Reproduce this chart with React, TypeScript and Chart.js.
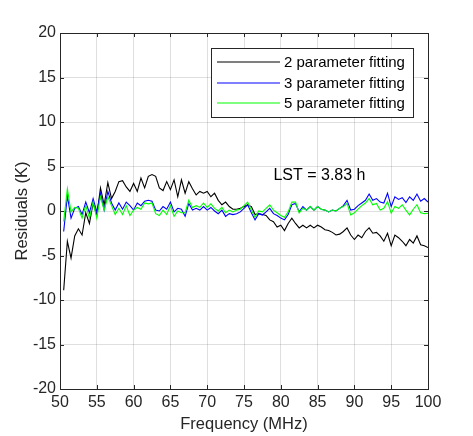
import { useEffect, useRef } from "react";
import { Chart, registerables } from "chart.js";

Chart.register(...registerables);

// Frequency channels (MHz)
const frequencyMHz = [
  50.5, 51, 51.5, 52, 52.5, 53, 53.5, 54, 54.5, 55,
  55.5, 56, 56.5, 57, 57.5, 58, 58.5, 59, 59.5, 60,
  60.5, 61, 61.5, 62, 62.5, 63, 63.5, 64, 64.5, 65,
  65.5, 66, 66.5, 67, 67.5, 68, 68.5, 69, 69.5, 70,
  70.5, 71, 71.5, 72, 72.5, 73, 73.5, 74, 74.5, 75,
  75.5, 76, 76.5, 77, 77.5, 78, 78.5, 79, 79.5, 80,
  80.5, 81, 81.5, 82, 82.5, 83, 83.5, 84, 84.5, 85,
  85.5, 86, 86.5, 87, 87.5, 88, 88.5, 89, 89.5, 90,
  90.5, 91, 91.5, 92, 92.5, 93, 93.5, 94, 94.5, 95,
  95.5, 96, 96.5, 97, 97.5, 98, 98.5, 99, 99.5, 100,
];

// Residuals (K) after each foreground fit
const residual2Param = [
  -8.9, -3.4, -5.3, -2.8, -2.0, -2.7, -0.2, -1.4, 0.9, -0.5,
  2.6, 0.7, 3.2, 1.4, 2.2, 3.3, 3.4, 2.7, 2.2, 3.1,
  2.2, 3.7, 2.6, 3.9, 4.1, 3.9, 2.6, 2.3, 3.3, 2.4,
  3.5, 1.6, 3.5, 2.0, 3.3, 2.5, 1.8, 2.2, 2.0, 2.2,
  1.6, 2.0, 1.2, 0.7, 1.0, 0.5, 0.2, 0.2, 0.3, 0.5,
  0.7, 0.5, -0.4, -0.3, -0.4, -0.5, -1.0, -1.2, -1.8, -1.6,
  -2.2, -1.4, -0.8, -1.4, -1.9, -1.6, -1.9, -1.6, -1.9, -1.6,
  -1.8, -2.1, -2.2, -2.4, -2.7, -2.6, -2.3, -1.9, -2.7, -3.2,
  -2.7, -3.0, -2.3, -1.9, -2.5, -2.4, -2.8, -3.4, -2.5, -3.9,
  -2.7, -3.0, -3.4, -3.9, -3.2, -3.6, -2.8, -3.8, -3.9, -4.1,
];

const residual3Param = [
  -2.3, 1.7, -0.8, 0.3, 0.5, -0.4, 1.0, -0.2, 1.4, -0.1,
  2.0, 0.1, 2.2, 0.9, 0.1, 0.9, 0.2, 1.0, 0.6, 0.1,
  0.9, 0.6, 1.1, 1.2, 1.1, 0.1, 0.0, 0.5, 0.2, 1.0,
  -0.1, 0.3, 0.2, -0.6, 0.85, 0.1, 0.3, 0.1, 0.5, 0.1,
  0.4, 0.0, -0.3, 0.1, -0.6, -0.3, -0.4, -0.3, -0.1, 0.3,
  0.7, -0.2, -1.0, -0.3, -0.45, -0.1, 0.3, -0.3, -0.5, -0.8,
  -1.0, -0.4, 0.7, 0.85, -0.1, 0.5, 0.1, 0.5, 0.1, 0.5,
  0.2, 0.1, -0.1, 0.1, 0.0, 0.3, 0.6, 1.2, 0.1, 0.2,
  0.6, 0.9, 1.2, 1.9, 1.2, 1.4, 1.0, 0.9, 2.0, 0.5,
  1.6, 1.3, 1.5, 0.95, 1.6, 1.2, 1.9, 1.1, 1.4, 1.0,
];

const residual5Param = [
  -1.2, 2.5, -0.1, 0.4, 0.3, -0.8, 0.6, -0.8, 1.0, -0.8,
  1.6, 0.1, 1.6, 0.6, -0.4, 0.3, -0.4, 0.6, -0.5, 0.1,
  0.4, 0.2, 0.9, 0.8, 0.9, -0.3, -0.5, 0.1, -0.4, 0.6,
  -0.6, 0.0, -0.2, -0.2, 1.2, 0.4, 0.6, 0.4, 0.9, 0.4,
  0.8, 0.3, 0.0, 0.4, -0.2, 0.1, -0.1, 0.1, 0.2, 0.6,
  1.0, 0.1, -0.7, 0.0, -0.1, 0.3, 0.7, 0.1, -0.2, -0.5,
  -0.7, -0.1, 1.0, 1.0, -0.2, 0.3, 0.1, 0.5, 0.1, 0.5,
  0.2, 0.1, -0.1, 0.1, 0.0, 0.3, 0.5, 0.85, -0.45, -0.2,
  0.2, 0.6, 0.9, 1.4, 0.7, 0.85, 0.1, 0.3, 1.05, -0.25,
  0.5, 0.3, 0.7, 0.1, -0.45, 0.2, 0.7, -0.2, -0.3, -0.25,
];

const seriesLabels = ["2 parameter fitting", "3 parameter fitting", "5 parameter fitting"];
const seriesValues = [residual2Param, residual3Param, residual5Param];
const seriesColors = ["#000000", "#0000ff", "#00ff00"];

const xTitle = "Frequency (MHz)";
const yTitle = "Residuals (K)";
const xRange = [50, 100];
const yRange = [-20, 20];
const tickStep = 5;

// Annotation text and its anchor in data units (left-aligned, vertically centred)
const annotationText = "LST = 3.83 h";
const annotationX = 79;
const annotationY = 4.0;

const AXIS_COLOR = "#262626";
const GRID_COLOR = "rgba(38,38,38,0.15)";
const FONT = "'Liberation Sans', Arial, Helvetica, sans-serif";
const TICK_LEN = 4;

const crisp = (v: number) => Math.round(v) + 0.5;

// Closed axes box with inward tick marks on every side
const boxPlugin = {
  id: "axesBox",
  afterDatasetsDraw(chart: any) {
    const { ctx, chartArea, scales } = chart;
    const { left, right, top, bottom } = chartArea;
    ctx.save();
    ctx.strokeStyle = AXIS_COLOR;
    ctx.lineWidth = 1;
    ctx.beginPath();
    ctx.rect(crisp(left), crisp(top), Math.round(right) - Math.round(left), Math.round(bottom) - Math.round(top));
    ctx.stroke();
    ctx.beginPath();
    for (const t of scales.x.ticks) {
      const px = crisp(scales.x.getPixelForValue(t.value));
      ctx.moveTo(px, bottom);
      ctx.lineTo(px, bottom - TICK_LEN);
      ctx.moveTo(px, top);
      ctx.lineTo(px, top + TICK_LEN);
    }
    for (const t of scales.y.ticks) {
      const py = crisp(scales.y.getPixelForValue(t.value));
      ctx.moveTo(left, py);
      ctx.lineTo(left + TICK_LEN, py);
      ctx.moveTo(right, py);
      ctx.lineTo(right - TICK_LEN, py);
    }
    ctx.stroke();
    ctx.restore();
  },
};

// Text annotation placed in data coordinates
const annotationPlugin = {
  id: "lstText",
  afterDatasetsDraw(chart: any) {
    const { ctx, scales } = chart;
    ctx.save();
    ctx.font = `16px ${FONT}`;
    ctx.fillStyle = "#000000";
    ctx.textAlign = "left";
    ctx.textBaseline = "middle";
    ctx.fillText(annotationText, scales.x.getPixelForValue(annotationX), scales.y.getPixelForValue(annotationY));
    ctx.restore();
  },
};

// Boxed legend in the upper-right corner of the axes
const boxLegendPlugin = {
  id: "boxLegend",
  afterDraw(chart: any) {
    const { ctx, chartArea } = chart;
    const w = 202;
    const h = 69;
    const x0 = Math.round(chartArea.right - 15 - w);
    const y0 = Math.round(chartArea.top + 15);
    ctx.save();
    ctx.fillStyle = "#ffffff";
    ctx.fillRect(x0, y0, w, h);
    ctx.strokeStyle = AXIS_COLOR;
    ctx.lineWidth = 1;
    ctx.strokeRect(x0 + 0.5, y0 + 0.5, w, h);
    ctx.font = `15px ${FONT}`;
    ctx.textAlign = "left";
    ctx.textBaseline = "middle";
    for (let i = 0; i < seriesLabels.length; i++) {
      const cy = Math.round(y0 + 14 + i * 20.5);
      ctx.save();
      ctx.strokeStyle = seriesColors[i];
      ctx.lineWidth = 1.2;
      ctx.beginPath();
      ctx.moveTo(x0 + 6, cy);
      ctx.lineTo(x0 + 69, cy);
      ctx.stroke();
      ctx.restore();
      ctx.fillStyle = "#000000";
      ctx.fillText(seriesLabels[i], x0 + 73, cy + 1);
    }
    ctx.restore();
  },
};

export default function App() {
  const canvasRef = useRef<HTMLCanvasElement | null>(null);

  useEffect(() => {
    document.body.style.margin = "0";
    const canvas = canvasRef.current;
    if (!canvas) return;

    const datasets = seriesValues.map((vals, i) => ({
      label: seriesLabels[i],
      data: frequencyMHz.map((f, j) => ({ x: f, y: vals[j] })),
      borderColor: seriesColors[i],
      backgroundColor: seriesColors[i],
      borderWidth: 1.1,
      pointRadius: 0,
      tension: 0,
      fill: false,
      order: seriesValues.length - i,
    }));

    const tickFont = { family: FONT, size: 16 };
    const titleFont = { family: FONT, size: 16.5 };

    const chart = new Chart(canvas, {
      type: "line",
      data: { datasets },
      plugins: [boxPlugin, annotationPlugin, boxLegendPlugin],
      options: {
        animation: false,
        responsive: false,
        maintainAspectRatio: false,
        devicePixelRatio: 1,
        events: [],
        layout: { padding: { left: 0, right: 45, top: 33, bottom: 0 } },
        plugins: { legend: { display: false }, tooltip: { enabled: false } },
        scales: {
          x: {
            type: "linear",
            min: xRange[0],
            max: xRange[1],
            ticks: {
              stepSize: tickStep,
              color: AXIS_COLOR,
              font: tickFont,
              padding: 4,
              maxRotation: 0,
              autoSkip: false,
            },
            grid: { color: GRID_COLOR, drawTicks: false, lineWidth: 1 },
            border: { display: true, color: AXIS_COLOR, width: 1 },
            title: {
              display: true,
              text: xTitle,
              color: AXIS_COLOR,
              font: titleFont,
              padding: { top: 0, bottom: 2 },
            },
            afterFit: (s: any) => {
              s.height = 47;
            },
          },
          y: {
            type: "linear",
            min: yRange[0],
            max: yRange[1],
            ticks: {
              stepSize: tickStep,
              color: AXIS_COLOR,
              font: tickFont,
              padding: 4,
              autoSkip: false,
            },
            grid: { color: GRID_COLOR, drawTicks: false, lineWidth: 1 },
            border: { display: true, color: AXIS_COLOR, width: 1 },
            title: {
              display: true,
              text: yTitle,
              color: AXIS_COLOR,
              font: titleFont,
              padding: { top: 13, bottom: 0 },
            },
            afterFit: (s: any) => {
              s.width = 60;
            },
          },
        },
      } as any,
    });

    return () => chart.destroy();
  }, []);

  return (
    <div style={{ width: 473, height: 436, background: "#ffffff" }}>
      <canvas ref={canvasRef} width={473} height={436} style={{ display: "block" }} />
    </div>
  );
}
